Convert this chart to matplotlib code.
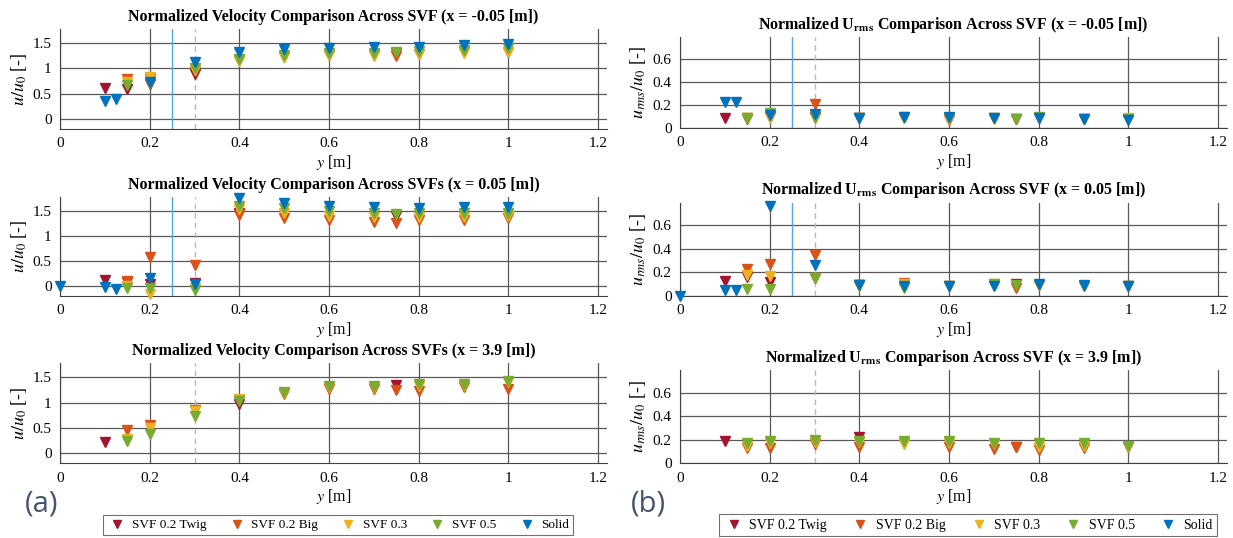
import matplotlib

matplotlib.use("Agg")
import matplotlib.pyplot as plt
import numpy as np

nan = np.nan

# spanwise probe positions y [m]
y_pos = [0, 0.1, 0.125, 0.15, 0.2, 0.3, 0.4, 0.5, 0.6, 0.7, 0.75, 0.8, 0.9, 1.0]

series_names = ["SVF 0.2 Twig", "SVF 0.2 Big", "SVF 0.3", "SVF 0.5", "Solid"]
series_colors = ["#A2142F", "#D95319", "#EDB120", "#77AC30", "#0072BD"]

# u/u0, rows in series order
vel_xm005 = [
    [nan, 0.62, nan, 0.60, 0.70, 0.90, 1.17, nan, nan, nan, 1.30, nan, nan, nan],
    [nan, nan, nan, 0.79, 0.80, 0.95, 1.17, 1.22, 1.27, 1.27, 1.25, 1.29, 1.32, 1.33],
    [nan, nan, nan, 0.74, 0.84, 0.97, 1.15, 1.22, 1.26, 1.25, nan, 1.28, 1.30, 1.32],
    [nan, nan, nan, 0.68, 0.72, 1.00, 1.18, 1.26, 1.30, 1.31, 1.33, 1.35, 1.37, 1.40],
    [nan, 0.36, 0.40, nan, 0.74, 1.13, 1.32, 1.38, 1.40, 1.43, nan, 1.43, 1.47, 1.49],
]
vel_x005 = [
    [nan, 0.11, nan, 0.08, 0.03, 0.05, 1.45, nan, nan, nan, 1.40, nan, nan, nan],
    [nan, nan, nan, 0.09, 0.57, 0.42, 1.41, 1.35, 1.32, 1.28, 1.26, 1.31, 1.31, 1.35],
    [nan, nan, nan, 0.00, -0.16, -0.05, 1.53, 1.45, 1.40, 1.38, nan, 1.38, 1.38, 1.39],
    [nan, nan, nan, -0.05, -0.05, -0.09, 1.60, 1.55, 1.50, 1.46, 1.44, 1.46, 1.46, 1.46],
    [0.0, -0.02, -0.07, nan, 0.16, 0.03, 1.76, 1.66, 1.60, 1.58, nan, 1.55, 1.57, 1.58],
]
vel_x39 = [
    [nan, 0.21, nan, nan, nan, nan, 0.97, nan, nan, nan, 1.34, nan, nan, nan],
    [nan, nan, nan, 0.45, 0.55, 0.85, 1.05, 1.17, 1.27, 1.27, 1.25, 1.23, 1.30, 1.26],
    [nan, nan, nan, 0.27, 0.49, 0.83, 1.08, 1.18, 1.30, 1.30, nan, 1.33, 1.35, 1.40],
    [nan, nan, nan, 0.24, 0.37, 0.73, 1.03, 1.20, 1.33, 1.33, nan, 1.36, 1.37, 1.43],
    [nan] * 14,
]

# u_rms/u0
rms_xm005 = [
    [nan, 0.09, nan, 0.08, 0.10, 0.10, 0.09, nan, nan, nan, 0.08, nan, nan, nan],
    [nan, nan, nan, 0.09, 0.10, 0.21, 0.09, 0.09, 0.07, 0.09, 0.08, 0.09, 0.08, 0.08],
    [nan, nan, nan, 0.09, 0.09, 0.11, 0.09, 0.09, 0.08, 0.08, nan, 0.09, 0.08, 0.09],
    [nan, nan, nan, 0.09, 0.13, 0.09, 0.09, 0.10, 0.09, 0.09, 0.08, 0.10, 0.08, 0.08],
    [nan, 0.23, 0.23, nan, 0.11, 0.12, 0.09, 0.10, 0.10, 0.09, nan, 0.09, 0.08, 0.07],
]
rms_x005 = [
    [nan, 0.13, nan, 0.16, 0.12, 0.15, 0.09, nan, nan, nan, 0.10, nan, nan, nan],
    [nan, nan, nan, 0.23, 0.27, 0.35, 0.09, 0.11, 0.08, 0.09, 0.07, 0.09, 0.08, 0.08],
    [nan, nan, nan, 0.18, 0.17, 0.15, 0.08, 0.10, 0.08, 0.10, nan, 0.09, 0.08, 0.08],
    [nan, nan, nan, 0.06, 0.06, 0.15, 0.09, 0.07, 0.08, 0.10, 0.09, 0.09, 0.08, 0.08],
    [0.0, 0.05, 0.05, nan, 0.76, 0.26, 0.09, 0.08, 0.08, 0.08, nan, 0.10, 0.09, 0.08],
]
rms_x39 = [
    [nan, 0.19, nan, nan, nan, nan, 0.22, nan, nan, nan, 0.14, nan, nan, nan],
    [nan, nan, nan, 0.13, 0.13, 0.16, 0.14, 0.17, 0.14, 0.12, 0.14, 0.11, 0.13, 0.14],
    [nan, nan, nan, 0.15, 0.17, 0.18, 0.18, 0.16, 0.17, 0.16, nan, 0.14, 0.15, 0.14],
    [nan, nan, nan, 0.17, 0.19, 0.20, 0.19, 0.19, 0.19, 0.17, nan, 0.17, 0.17, 0.15],
    [nan] * 14,
]

x_ticks = [0, 0.2, 0.4, 0.6, 0.8, 1.0, 1.2]
x_tick_labels = ["0", "0.2", "0.4", "0.6", "0.8", "1", "1.2"]
vel_ticks = [0, 0.5, 1.0, 1.5]
vel_tick_labels = ["0", "0.5", "1", "1.5"]
rms_ticks = [0, 0.2, 0.4, 0.6]
rms_tick_labels = ["0", "0.2", "0.4", "0.6"]

serif = ["Liberation Serif", "DejaVu Serif"]
plt.rcParams["font.family"] = serif
plt.rcParams["mathtext.fontset"] = "stix"


def draw_panel(ax, data, title, ylabel, yticks, ytick_labels, ylim, blue_line):
    for vals, name, color in zip(data, series_names, series_colors):
        ax.plot(y_pos, vals, linestyle="none", marker="v", markersize=7,
                color=color, label=name, clip_on=False, zorder=3)
    if blue_line:
        ax.axvline(0.25, color="#55a6dc", lw=1.0, zorder=2)
    ax.axvline(0.3, color="0.72", lw=1.0, ls=(0, (4, 3)), zorder=2)
    ax.set_xlim(0, 1.22)
    ax.set_ylim(*ylim)
    ax.set_xticks(x_ticks, x_tick_labels, family=serif)
    ax.set_yticks(yticks, ytick_labels, family=serif)
    ax.grid(True, color="0.35", lw=0.9)
    ax.set_axisbelow(True)
    ax.tick_params(direction="in", length=0, labelsize=11, pad=6)
    for side in ("top", "right"):
        ax.spines[side].set_visible(False)
    for side in ("left", "bottom"):
        ax.spines[side].set_color("0.25")
    ax.set_title(title, fontsize=11.5, fontweight="bold", pad=6)
    ax.set_xlabel(r"$y$ [m]", fontsize=11.5, labelpad=2)
    ax.set_ylabel(ylabel, fontsize=13, labelpad=3)


if __name__ == "__main__":
    fig = plt.figure(figsize=(12.33, 5.38), dpi=100)

    left_x, right_x, width = 0.0487, 0.5515, 0.4437
    left_rows = [(0.760, 0.186), (0.450, 0.184), (0.139, 0.186)]
    right_rows = [(0.762, 0.169), (0.450, 0.173), (0.139, 0.173)]

    vel_sets = [vel_xm005, vel_x005, vel_x39]
    vel_titles = [
        "Normalized Velocity Comparison Across SVF (x = -0.05 [m])",
        "Normalized Velocity Comparison Across SVFs (x = 0.05 [m])",
        "Normalized Velocity Comparison Across SVFs (x = 3.9 [m])",
    ]
    rms_sets = [rms_xm005, rms_x005, rms_x39]
    rms_titles = [
        r"Normalized U$_{\mathbf{rms}}$ Comparison Across SVF (x = -0.05 [m])",
        r"Normalized U$_{\mathbf{rms}}$ Comparison Across SVF (x = 0.05 [m])",
        r"Normalized U$_{\mathbf{rms}}$ Comparison Across SVF (x = 3.9 [m])",
    ]

    left_axes = []
    for i in range(3):
        ax = fig.add_axes([left_x, left_rows[i][0], width, left_rows[i][1]])
        draw_panel(ax, vel_sets[i], vel_titles[i], r"$u/u_0$ [-]",
                   vel_ticks, vel_tick_labels, (-0.2, 1.78), i < 2)
        left_axes.append(ax)

    right_axes = []
    for i in range(3):
        ax = fig.add_axes([right_x, right_rows[i][0], width, right_rows[i][1]])
        draw_panel(ax, rms_sets[i], rms_titles[i], r"$u_{rms}/u_0$ [-]",
                   rms_ticks, rms_tick_labels, (0, 0.79), i < 2)
        right_axes.append(ax)

    handles, labels = left_axes[0].get_legend_handles_labels()
    for cx, fs, cs in ((0.274, 9.5, 1.5), (0.785, 10, 1.6)):
        leg = fig.legend(handles, labels, loc="center", bbox_to_anchor=(cx, 0.024),
                         ncol=5, fontsize=fs, frameon=True, fancybox=False,
                         edgecolor="0.3", handletextpad=0.3, handlelength=1.6,
                         columnspacing=cs, borderpad=0.3, markerscale=0.8)
        leg.get_frame().set_linewidth(0.8)

    panel_font = ["Open Sans", "DejaVu Sans"]
    fig.text(0.020, 0.05, "(a)", fontsize=21, color="#44546A", family=panel_font)
    fig.text(0.512, 0.05, "(b)", fontsize=21, color="#44546A", family=panel_font)

    fig.savefig("out.png", dpi=100)
